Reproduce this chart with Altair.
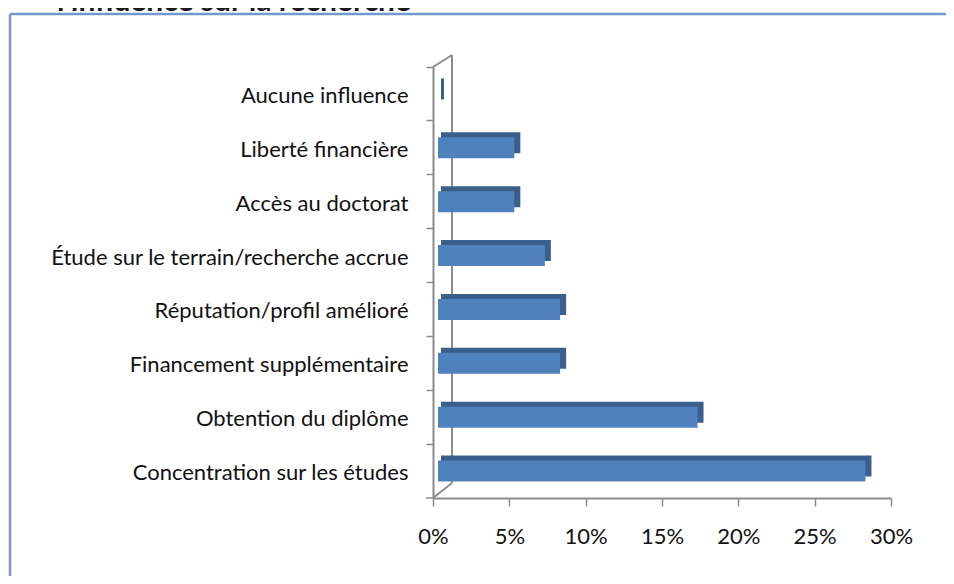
import altair as alt
import pandas as pd

categories = [
    "Aucune influence",
    "Liberté financière",
    "Accès au doctorat",
    "Étude sur le terrain/recherche accrue",
    "Réputation/profil amélioré",
    "Financement supplémentaire",
    "Obtention du diplôme",
    "Concentration sur les études",
]
values = [0, 5, 5, 7, 8, 8, 17, 28]
x_ticks = [0, 5, 10, 15, 20, 25, 30]
title_text = "l'influence sur la recherche"

df = pd.DataFrame({"cat": categories, "val": values})

W, H = 458, 431
FONT = "Lato"
AXIS_GREY = "#8c8c8c"

y_enc = alt.Y("cat:N", sort=categories, title=None,
              scale=alt.Scale(paddingInner=0, paddingOuter=0),
              axis=alt.Axis(labelFontSize=22, labelFont=FONT, labelColor="#111111",
                            labelPadding=18, tickSize=7, tickColor=AXIS_GREY, tickWidth=1.5,
                            domainColor=AXIS_GREY, domainWidth=2, bandPosition=0,
                            labelOffset=2, labelLimit=420))
x_scale = alt.Scale(domain=[0, 30], nice=False)
x_axis = alt.Axis(values=x_ticks, labelExpr="datum.value + '%'", labelFontSize=22,
                  labelFont=FONT, labelColor="#111111", tickSize=8, tickColor=AXIS_GREY,
                  tickWidth=1.5, domainColor=AXIS_GREY, domainWidth=2, labelPadding=20,
                  grid=False, labelFlush=False)

base = alt.Chart(df).transform_calculate(start="0")

back = base.mark_bar(color="#3a5f8c", size=21, xOffset=8, x2Offset=11, yOffset=-5).encode(
    x=alt.X("start:Q", scale=x_scale, axis=x_axis, title=None),
    x2="val:Q",
    y=y_enc,
)
front = base.mark_bar(color="#4f81bd", size=21, xOffset=5, x2Offset=5).encode(
    x=alt.X("start:Q", scale=x_scale, axis=x_axis, title=None),
    x2="val:Q",
    y=y_enc,
)

grey = alt.Chart(df.head(1))
wall = grey.mark_rule(color=AXIS_GREY, strokeWidth=2).encode(
    x=alt.value(19), x2=alt.value(19), y=alt.value(-12), y2=alt.value(416))
diag_top = grey.mark_rule(color=AXIS_GREY, strokeWidth=2).encode(
    x=alt.value(0), x2=alt.value(19), y=alt.value(0), y2=alt.value(-12))
diag_bot = grey.mark_rule(color=AXIS_GREY, strokeWidth=2).encode(
    x=alt.value(0), x2=alt.value(19), y=alt.value(431), y2=alt.value(416))
tick_bot = grey.mark_rule(color=AXIS_GREY, strokeWidth=1.5).encode(
    x=alt.value(-7), x2=alt.value(0), y=alt.value(431))

FRAME = "#7199cb"
frame_top = grey.mark_rule(color=FRAME, strokeWidth=2.5).encode(
    x=alt.value(-423), x2=alt.value(530), y=alt.value(-53))
frame_left = grey.mark_rule(color=FRAME, strokeWidth=2.5).encode(
    x=alt.value(-423), y=alt.value(-53), y2=alt.value(530))

title = grey.mark_text(align="left", baseline="alphabetic", fontSize=30, font=FONT,
                       fontWeight="bold", color="#1a1a1a").encode(
    x=alt.value(-376), y=alt.value(-56), text=alt.value(title_text))

chart = alt.layer(frame_top, frame_left, title, wall, diag_top, diag_bot, tick_bot,
                  back, front).properties(
    width=W, height=H,
    autosize=alt.AutoSizeParams(type="none"),
    padding={"left": 425, "top": 59, "right": 55, "bottom": 78},
).configure_view(strokeWidth=0, stroke="transparent")

chart.save("out.html", embed_options={"renderer": "svg", "actions": False})
